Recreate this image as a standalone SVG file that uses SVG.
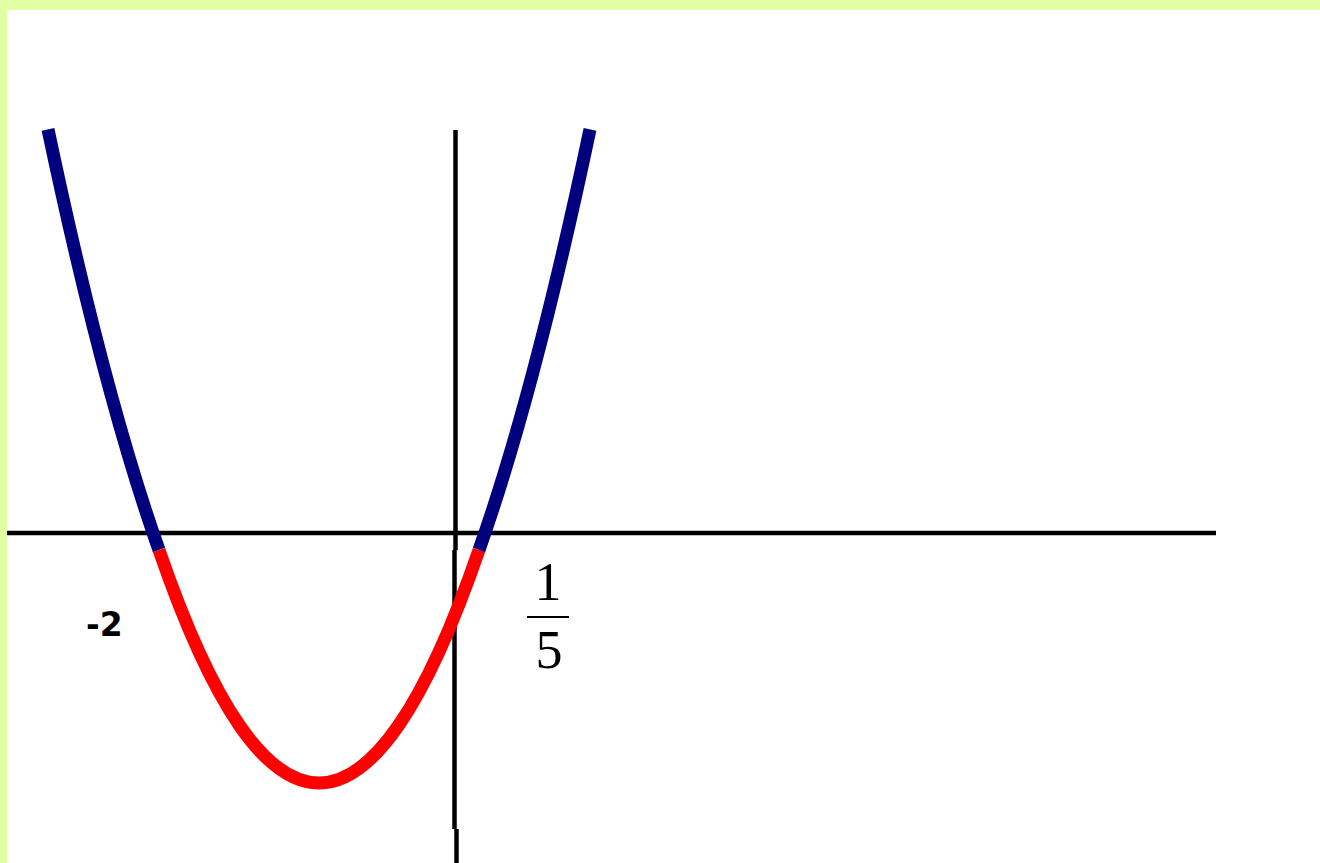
<svg xmlns="http://www.w3.org/2000/svg" width="1320" height="863" viewBox="0 0 1320 863">
<style>
.axis{stroke:#000;stroke-width:4.5;fill:none}
.curve{fill:none;stroke-width:13;stroke-linecap:butt}
.blue{stroke:#00007f}
.red{stroke:#ff0000}
.num{font-family:"Liberation Serif",serif;font-size:54px;fill:#000;text-anchor:middle}
.lbl{font-family:"DejaVu Sans",sans-serif;font-weight:bold;font-size:33px;fill:#000}
</style>
<rect x="0" y="0" width="1320" height="863" fill="#e1ffa3"/>
<rect x="7" y="10" width="1313" height="853" fill="#ffffff"/>
<g id="axes">
<line class="axis" x1="7" y1="533" x2="1216" y2="533"/>
<line class="axis" x1="455.5" y1="130" x2="455.5" y2="550"/>
<line class="axis" x1="454.5" y1="550" x2="454.5" y2="829"/>
<line class="axis" x1="456.5" y1="829" x2="456.5" y2="863"/>
</g>
<g id="parabola">
<path class="curve blue" d="M48,129.4 Q103.5,392.8 159,550"/>
<path class="curve red" d="M159,550 Q319,1016 479,550"/>
<path class="curve blue" d="M479,550 Q534.5,392.8 590,129.4"/>
</g>
<g id="label-minus2">
<text class="lbl" x="86" y="636">-2</text>
</g>
<g id="label-fraction">
<text class="num" x="548" y="600">1</text>
<line x1="527" y1="617" x2="569" y2="617" stroke="#000" stroke-width="2"/>
<text class="num" x="549" y="668">5</text>
</g>
</svg>
